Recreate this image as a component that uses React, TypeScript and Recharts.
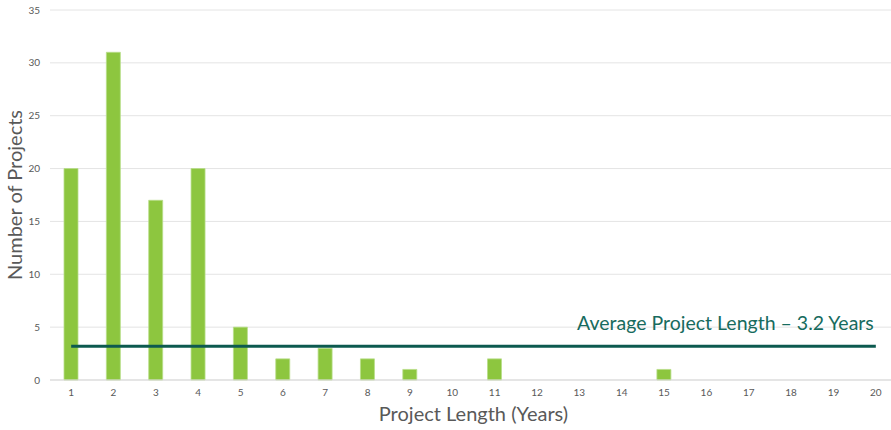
import { BarChart, Bar, XAxis, YAxis, CartesianGrid, ReferenceLine, Label } from 'recharts'

const years = ['1', '2', '3', '4', '5', '6', '7', '8', '9', '10', '11', '12', '13', '14', '15', '16', '17', '18', '19', '20']
const projects = [20, 31, 17, 20, 5, 2, 3, 2, 1, 0, 2, 0, 0, 0, 1, 0, 0, 0, 0, 0]
const yTicks = [0, 5, 10, 15, 20, 25, 30, 35]
const averageLength = 3.2

const FONT = 'Lato, "Open Sans", sans-serif'
const TEAL = '#0c5a4f'

const chartData = years.map((year, i) => ({ year, count: projects[i] }))

function AvgLabel({ viewBox }: any) {
  if (!viewBox) return null
  const right = viewBox.x + viewBox.width - 2
  return (
    <text
      x={right}
      y={viewBox.y - 16}
      textAnchor="end"
      fill="#176b5e"
      fontSize={19.5}
      fontFamily={FONT}
    >
      Average Project Length – {averageLength} Years
    </text>
  )
}

export default function App() {
  return (
    <div
      style={{
        position: 'fixed',
        left: 0,
        top: 0,
        width: 891,
        height: 430,
        overflow: 'hidden',
        background: '#fff',
      }}
    >
      <BarChart
        width={900}
        height={430}
        data={chartData}
        margin={{ top: 10, right: 3, bottom: 0, left: 0 }}
        barCategoryGap={0}
      >
        <CartesianGrid vertical={false} stroke="#e4e4e4" />
        <XAxis
          dataKey="year"
          axisLine={{ stroke: '#d9d9d9' }}
          tickLine={false}
          tickSize={0}
          tickMargin={9}
          height={50}
          interval={0}
          tick={{ fill: '#595959', fontSize: 10, fontFamily: FONT }}
        >
          <Label
            value="Project Length (Years)"
            position="insideBottom"
            offset={9}
            fill="#595959"
            fontSize={20}
            fontFamily={FONT}
          />
        </XAxis>
        <YAxis
          domain={[0, 35]}
          ticks={yTicks}
          axisLine={false}
          tickLine={false}
          tickSize={0}
          tickMargin={10}
          width={50}
          tick={{ fill: '#595959', fontSize: 10, fontFamily: FONT }}
        >
          <Label
            value="Number of Projects"
            angle={-90}
            position="insideLeft"
            offset={15}
            style={{ textAnchor: 'middle' }}
            fill="#595959"
            fontSize={20}
            fontFamily={FONT}
          />
        </YAxis>
        <Bar
          dataKey="count"
          fill="#8dc63f"
          stroke="#b9de8a"
          strokeWidth={0.8}
          barSize={14}
          isAnimationActive={false}
        />
        <ReferenceLine
          segment={[
            { x: years[0], y: averageLength },
            { x: years[years.length - 1], y: averageLength },
          ]}
          stroke={TEAL}
          strokeWidth={3}
          label={<AvgLabel />}
        />
      </BarChart>
    </div>
  )
}
